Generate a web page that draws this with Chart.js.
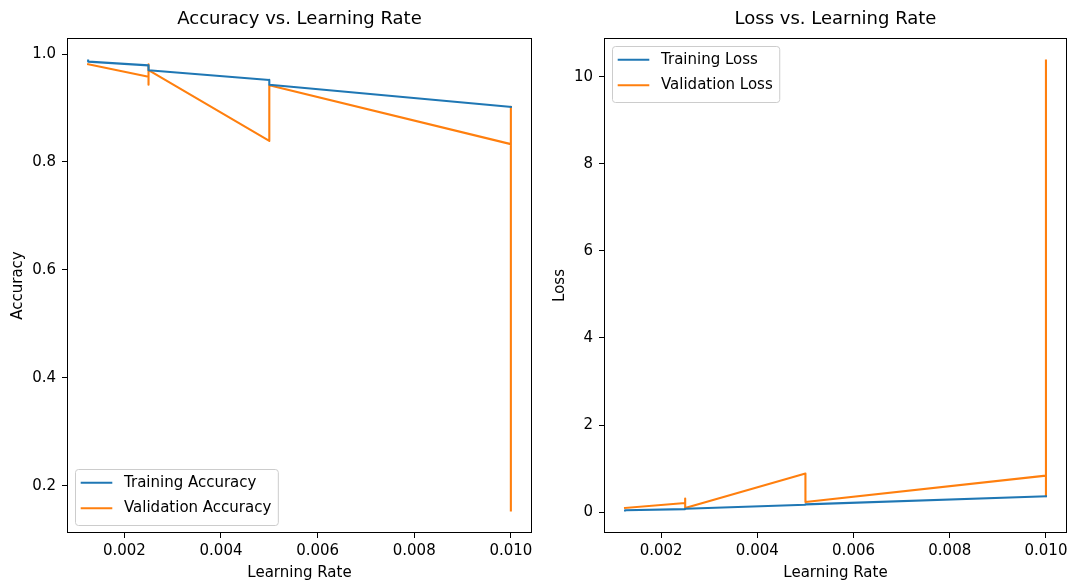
<!DOCTYPE html>
<html>
<head>
<meta charset="utf-8">
<title>Learning rate sweep</title>
<script src="https://cdn.jsdelivr.net/npm/chart.js@4.4.1/dist/chart.umd.min.js"></script>
<style>
  html, body { margin: 0; padding: 0; background: #fff; }
  #wrap { position: relative; width: 1079px; height: 587px; overflow: hidden; }
  canvas { position: absolute; top: 0; }
  #accChart { left: 0; }
  #lossChart { left: 540px; }
</style>
</head>
<body>
<div id="wrap">
  <canvas id="accChart" width="540" height="587"></canvas>
  <canvas id="lossChart" width="539" height="587"></canvas>
</div>
<script>
// Tick positions
const xTicks = [0.002, 0.004, 0.006, 0.008, 0.010];
const accTicks = [0.2, 0.4, 0.6, 0.8, 1.0];
const lossTicks = [0, 2, 4, 6, 8, 10];

// Accuracy runs, in logged order (learning rate, value)
const trainAccLr = [0.00125, 0.00125, 0.0025, 0.0025, 0.005, 0.005, 0.01];
const trainAcc   = [0.988, 0.986, 0.979, 0.970, 0.952, 0.943, 0.902];
const valAccLr   = [0.00125, 0.0025, 0.0025, 0.0025, 0.0025, 0.005, 0.005, 0.01, 0.01, 0.01, 0.01, 0.01, 0.01];
const valAcc     = [0.981, 0.958, 0.943, 0.981, 0.970, 0.839, 0.942, 0.833, 0.422, 0.902, 0.252, 0.372, 0.154];

// Loss runs, in logged order (learning rate, value)
const trainLossLr = [0.00125, 0.00125, 0.0025, 0.0025, 0.005, 0.005, 0.01];
const trainLoss   = [0.040, 0.046, 0.072, 0.080, 0.172, 0.180, 0.367];
const valLossLr   = [0.00125, 0.0025, 0.0025, 0.0025, 0.0025, 0.005, 0.005, 0.01, 0.01, 0.01, 0.01, 0.01];
const valLoss     = [0.099, 0.213, 0.314, 0.085, 0.100, 0.888, 0.236, 0.840, 0.367, 5.690, 2.600, 10.370];

const BLUE = '#1f77b4';
const ORANGE = '#ff7f0e';
const FAMILY = "'DejaVu Sans', sans-serif";
const FS = 15;

Chart.defaults.font.family = FAMILY;
Chart.defaults.color = '#000';

// axis limits with a 5% margin around the data
function paddedRange(values) {
  const lo = Math.min(...values), hi = Math.max(...values);
  const m = (hi - lo) * 0.05;
  return [lo - m, hi + m];
}

// full box around the plotting area
const framePlugin = {
  id: 'frame',
  afterDatasetsDraw(chart) {
    const { ctx, chartArea: a } = chart;
    ctx.save();
    ctx.strokeStyle = '#000';
    ctx.lineWidth = 1;
    ctx.strokeRect(a.left + 0.5, a.top + 0.5, a.right - a.left - 1, a.bottom - a.top - 1);
    ctx.restore();
  }
};

// framed legend drawn inside the plotting area
const boxLegend = {
  id: 'boxLegend',
  afterDraw(chart, args, opts) {
    const { ctx, chartArea: a } = chart;
    const items = chart.data.datasets;
    const inset = 8, boxH = 56, firstRow = 13.8, rowGap = 25.4;
    const padL = 5.7, handle = 31.6, gap = 11.7, padR = 6.5;
    ctx.save();
    ctx.font = `${FS}px ${FAMILY}`;
    const textW = Math.max(...items.map(d => ctx.measureText(d.label).width));
    const boxW = padL + handle + gap + textW + padR;
    const x0 = a.left + inset;
    const y0 = opts.corner === 'lower left' ? a.bottom - inset - boxH : a.top + inset;
    ctx.beginPath();
    ctx.roundRect(x0 + 0.5, y0 + 0.5, boxW, boxH, 3);
    ctx.fillStyle = 'rgba(255,255,255,0.8)';
    ctx.fill();
    ctx.strokeStyle = '#cccccc';
    ctx.lineWidth = 1;
    ctx.stroke();
    items.forEach((d, i) => {
      const y = y0 + firstRow + i * rowGap;
      ctx.beginPath();
      ctx.moveTo(x0 + padL + 1, y);
      ctx.lineTo(x0 + padL + handle - 1, y);
      ctx.strokeStyle = d.borderColor;
      ctx.lineWidth = 2;
      ctx.lineCap = 'square';
      ctx.stroke();
      ctx.fillStyle = '#000';
      ctx.textBaseline = 'middle';
      ctx.textAlign = 'left';
      ctx.fillText(d.label, x0 + padL + handle + gap, y);
    });
    ctx.restore();
  }
};

function buildChart(id, o) {
  return new Chart(document.getElementById(id), {
    type: 'line',
    data: {
      datasets: o.series.map(s => ({
        label: s.label,
        data: s.xs.map((x, i) => ({ x: x, y: s.ys[i] })),
        borderColor: s.color,
        backgroundColor: s.color,
        borderWidth: 2.1,
        pointRadius: 0,
        pointHoverRadius: 0,
        tension: 0,
        fill: false,
        borderJoinStyle: 'round',
        borderCapStyle: 'square'
      }))
    },
    options: {
      responsive: false,
      animation: false,
      events: [],
      layout: { padding: { top: 0, right: o.padRight, bottom: 0, left: 0 } },
      plugins: {
        legend: { display: false },
        tooltip: { enabled: false },
        title: {
          display: true,
          text: o.title,
          fullSize: false,
          color: '#000',
          font: { size: 18, weight: 'normal' },
          padding: { top: 8.2, bottom: 8.2 }
        },
        boxLegend: { corner: o.legendCorner }
      },
      scales: {
        x: {
          type: 'linear',
          min: o.xRange[0],
          max: o.xRange[1],
          afterFit: s => { s.height = 54; },
          afterBuildTicks: s => { s.ticks = xTicks.map(v => ({ value: v })); },
          ticks: {
            callback: v => Number(v).toFixed(3),
            autoSkip: false, maxRotation: 0, minRotation: 0,
            padding: 4, color: '#000', font: { size: FS }
          },
          grid: { display: true, drawOnChartArea: false, drawTicks: true, tickLength: 5, color: '#000', lineWidth: 1 },
          border: { display: false },
          title: { display: true, text: 'Learning Rate', color: '#000', font: { size: FS }, padding: { top: 0, bottom: 4.5 } }
        },
        y: {
          type: 'linear',
          min: o.yRange[0],
          max: o.yRange[1],
          afterFit: s => { s.width = o.yWidth; },
          afterBuildTicks: s => { s.ticks = o.yTicks.map(v => ({ value: v })); },
          ticks: {
            callback: v => Number(v).toFixed(o.yDigits),
            autoSkip: false, padding: 6, color: '#000', font: { size: FS }
          },
          grid: { display: true, drawOnChartArea: false, drawTicks: true, tickLength: 5, color: '#000', lineWidth: 1 },
          border: { display: false },
          title: { display: true, text: o.yTitle, color: '#000', font: { size: FS }, padding: { top: o.yTitlePad, bottom: 0 } }
        }
      }
    },
    plugins: [framePlugin, boxLegend]
  });
}

buildChart('accChart', {
  title: 'Accuracy vs. Learning Rate',
  yTitle: 'Accuracy',
  series: [
    { label: 'Training Accuracy', xs: trainAccLr, ys: trainAcc, color: BLUE },
    { label: 'Validation Accuracy', xs: valAccLr, ys: valAcc, color: ORANGE }
  ],
  xRange: paddedRange([...trainAccLr, ...valAccLr]),
  yRange: paddedRange([...trainAcc, ...valAcc]),
  yTicks: accTicks,
  yDigits: 1,
  yWidth: 67,
  yTitlePad: 9,
  padRight: 8,
  legendCorner: 'lower left'
});

buildChart('lossChart', {
  title: 'Loss vs. Learning Rate',
  yTitle: 'Loss',
  series: [
    { label: 'Training Loss', xs: trainLossLr, ys: trainLoss, color: BLUE },
    { label: 'Validation Loss', xs: valLossLr, ys: valLoss, color: ORANGE }
  ],
  xRange: paddedRange([...trainLossLr, ...valLossLr]),
  yRange: paddedRange([...trainLoss, ...valLoss]),
  yTicks: lossTicks,
  yDigits: 0,
  yWidth: 64,
  yTitlePad: 11,
  padRight: 12,
  legendCorner: 'upper left'
});
</script>
</body>
</html>
